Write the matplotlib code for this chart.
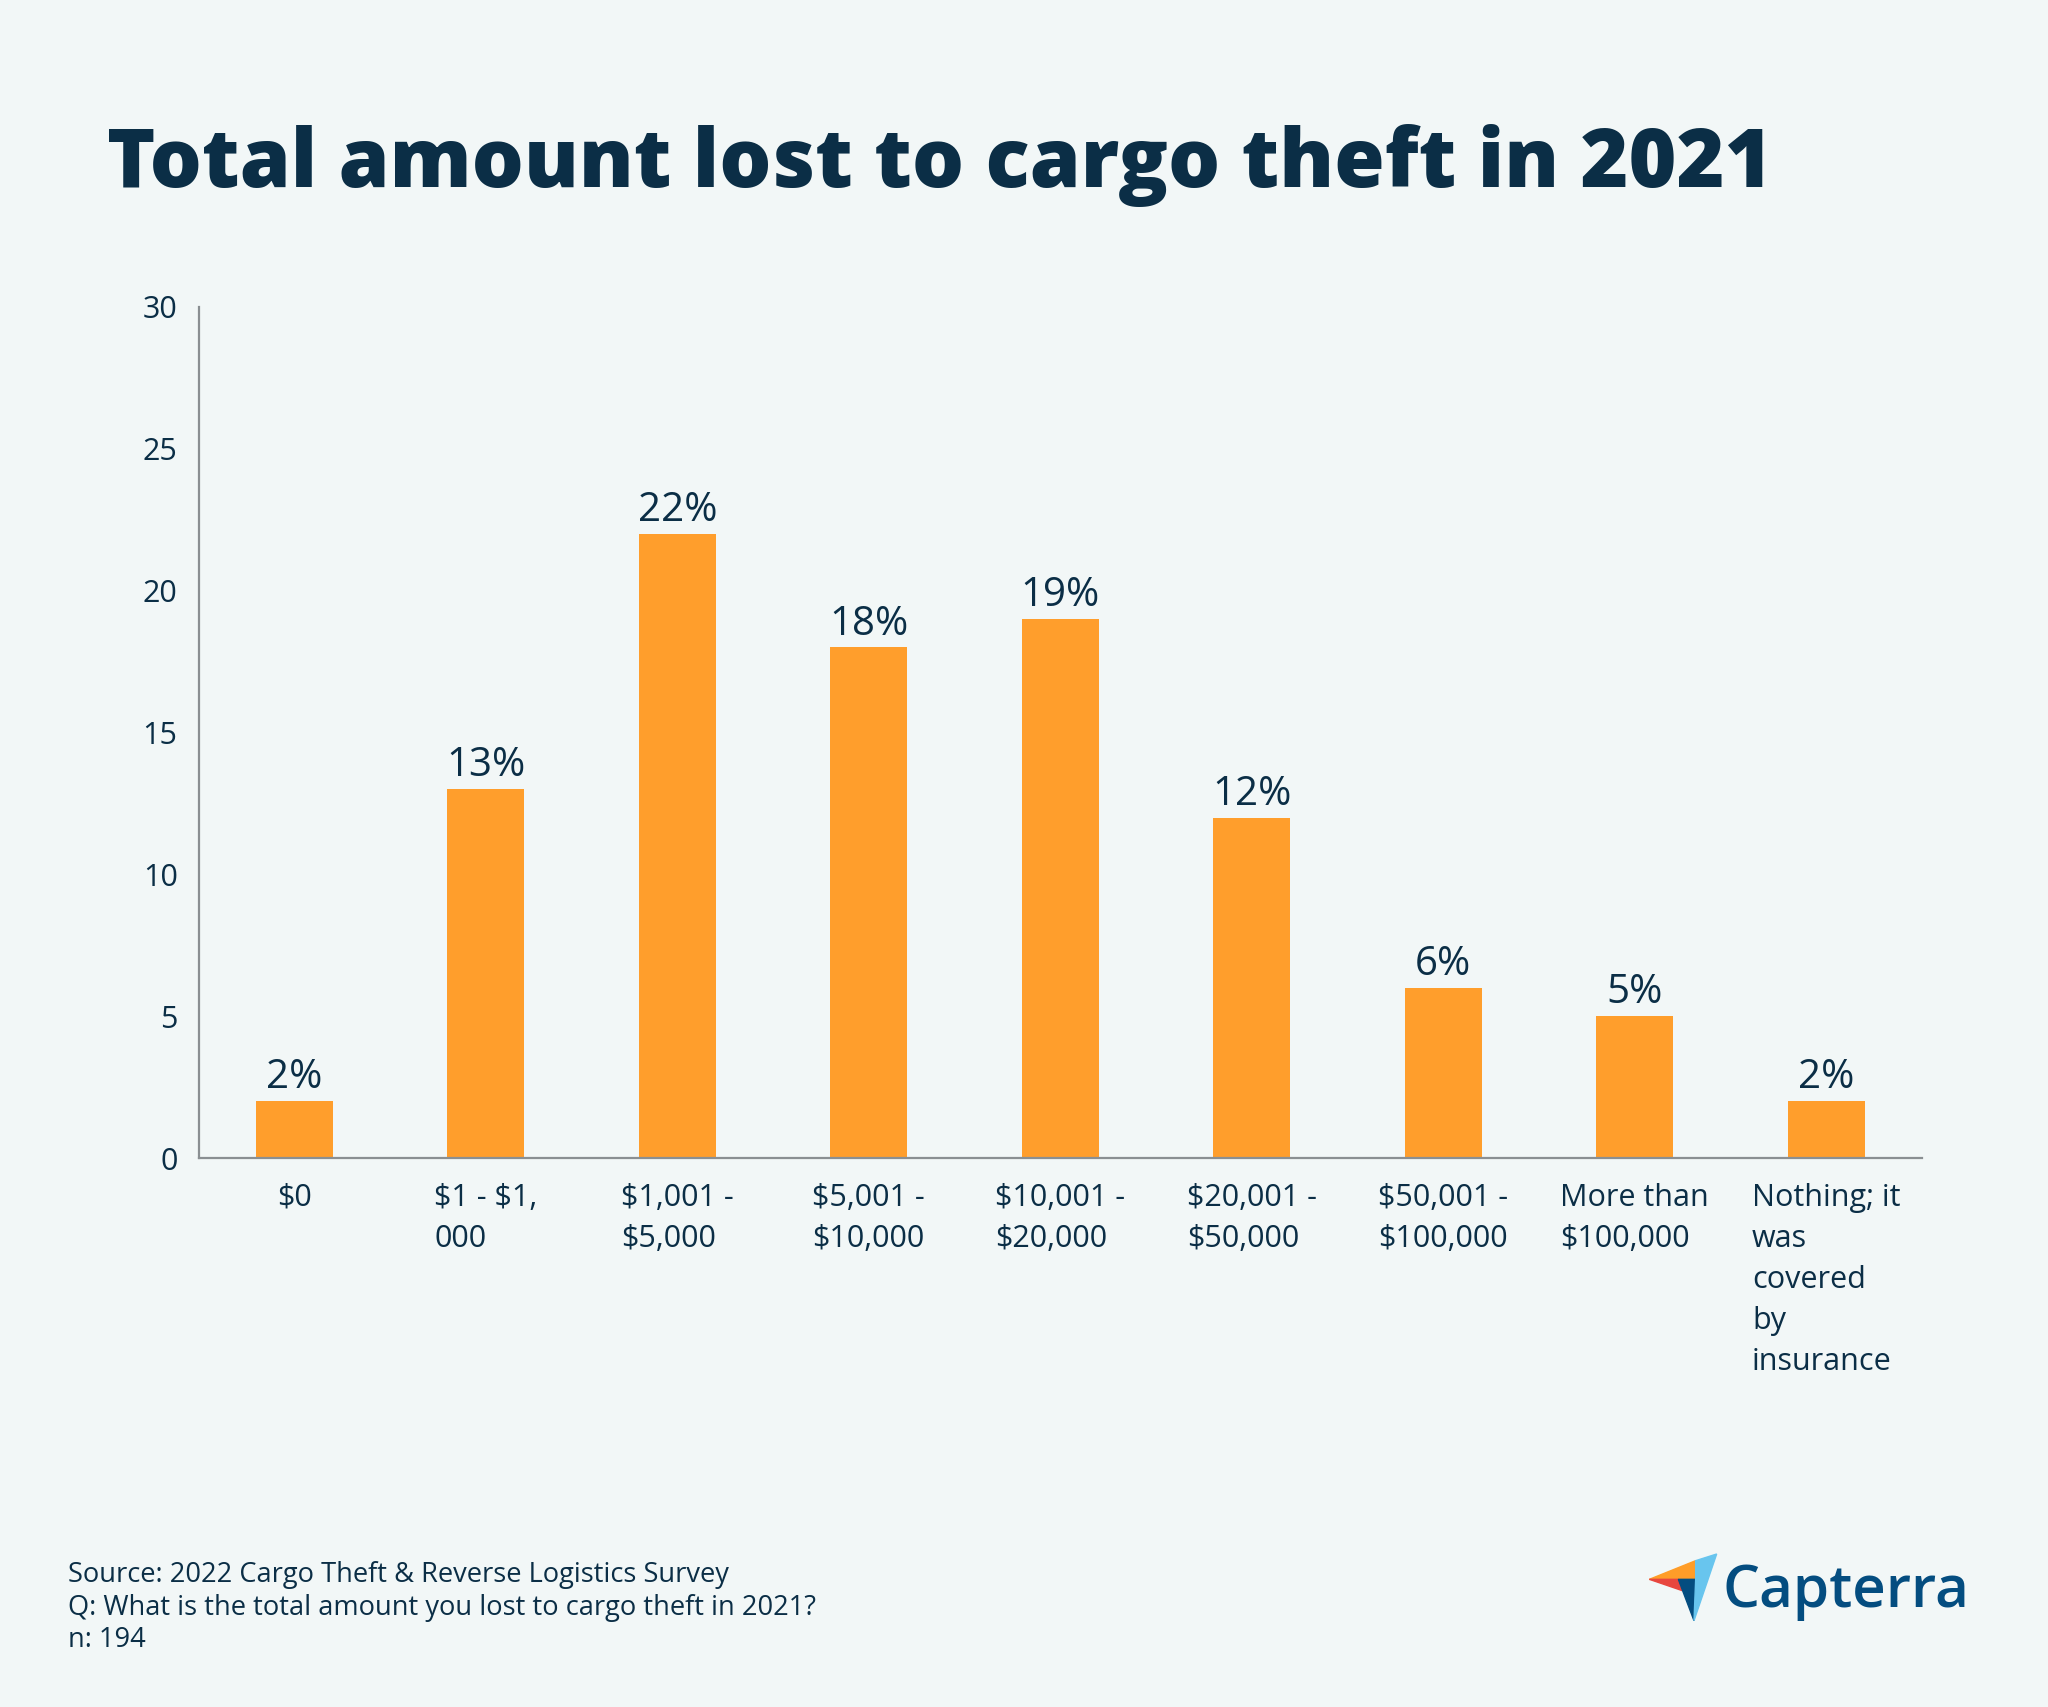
import matplotlib
matplotlib.use("Agg")
import matplotlib.pyplot as plt
from matplotlib.patches import Polygon

categories = ["$0", "$1 - $1,\n000", "$1,001 -\n$5,000", "$5,001 -\n$10,000",
              "$10,001 -\n$20,000", "$20,001 -\n$50,000", "$50,001 -\n$100,000",
              "More than\n$100,000", "Nothing; it\nwas\ncovered\nby\ninsurance"]
values = [2, 13, 22, 18, 19, 12, 6, 5, 2]
value_labels = ["2%", "13%", "22%", "18%", "19%", "12%", "6%", "5%", "2%"]
yticks = [0, 5, 10, 15, 20, 25, 30]

BG = "#F2F7F7"
NAVY = "#0B2E46"
ORANGE = "#FF9E2C"
W, H = 2048, 1707

plt.rcParams['font.family'] = ['Open Sans', 'DejaVu Sans']
plt.rcParams['text.parse_math'] = False

fig = plt.figure(figsize=(W / 100, H / 100), dpi=100, facecolor=BG)
ax = fig.add_axes([198.5 / W, 1 - 1158 / H, (1922 - 198.5) / W, (1158 - 307) / H])
ax.set_facecolor(BG)

x = list(range(len(categories)))
bars = ax.bar(x, values, width=0.4, color=ORANGE, zorder=2)
for xi, v, lab in zip(x, values, value_labels):
    ax.annotate(lab, (xi, v), xytext=(0, 2), textcoords="offset points",
                ha="center", va="bottom", fontsize=29, color=NAVY)

ax.set_xlim(-0.5, len(categories) - 0.5)
ax.set_ylim(0, 30)
ax.set_yticks(yticks)
ax.set_yticklabels([str(t) for t in yticks], fontsize=22, color=NAVY)
ax.set_xticks(x)
ax.set_xticklabels(categories, fontsize=22, color=NAVY, va="top",
                   ha="center", multialignment="left", linespacing=1.48)
ax.tick_params(axis="both", length=0)
ax.tick_params(axis="x", pad=18)
ax.tick_params(axis="y", pad=15)
for s in ["top", "right"]:
    ax.spines[s].set_visible(False)
for s in ["left", "bottom"]:
    ax.spines[s].set_color("#8A8F92")
    ax.spines[s].set_linewidth(1.6)

# Title
fig.text(107 / W, 1 - 187 / H, "Total amount lost to cargo theft in 2021",
         fontsize=59, fontweight="heavy", color=NAVY, ha="left", va="baseline")

# Footer
foot = ["Source: 2022 Cargo Theft & Reverse Logistics Survey",
        "Q: What is the total amount you lost to cargo theft in 2021?",
        "n: 194"]
for i, line in enumerate(foot):
    fig.text(68 / W, 1 - (1575 + 32.5 * i) / H, line, fontsize=19.6, color=NAVY,
             ha="left", va="center")

# Logo
def pt(zx, zy):
    return ((1630 + zx / 3) / W, 1 - (1530 + zy / 3) / H)

polys = [
    ([(58, 148), (197, 92), (197, 148)], "#FF9D28"),
    ([(58, 148), (145, 148), (157, 182)], "#E8473F"),
    ([(145, 148), (197, 148), (192, 272)], "#044D80"),
    ([(197, 92), (260, 72), (192, 272), (197, 148)], "#68C5EE"),
]
for verts, col in polys:
    fig.patches.append(Polygon([pt(*v) for v in verts], closed=True, color=col,
                               transform=fig.transFigure, figure=fig))
fig.text(1723 / W, 1 - 1607 / H, "Capterra", fontsize=42, fontweight="semibold",
         color="#044D80", ha="left", va="baseline")

fig.savefig("out.png", dpi=100, facecolor=BG)
